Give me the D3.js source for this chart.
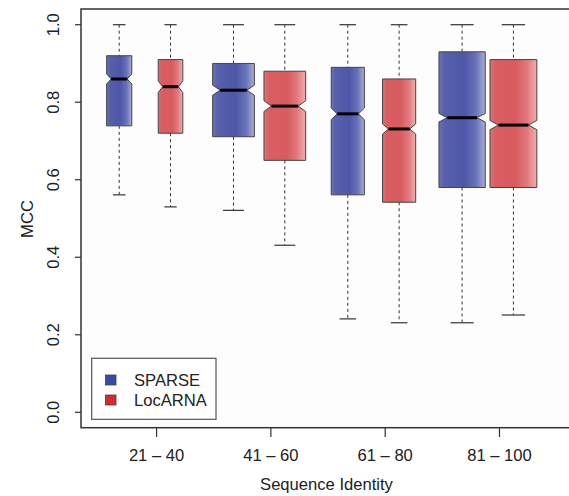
<!DOCTYPE html>
<html>
<head>
<meta charset="utf-8">
<script src="https://cdn.jsdelivr.net/npm/d3@7"></script>
<style>
body { margin: 0; background: #fff; }
text { font-family: "Liberation Sans", Arial, sans-serif; fill: #222; }
</style>
</head>
<body>
<script>
var w = 569, h = 496

// data
var groups = ["21 – 40", "41 – 60", "61 – 80", "81 – 100"]
var methods = ["SPARSE", "LocARNA"]
var yTicks = [0.0, 0.2, 0.4, 0.6, 0.8, 1.0]
// [whiskerLow, q1, median, q3, whiskerHigh] per group
var sparseStats = [
  [0.561, 0.739, 0.860, 0.920, 1.0],
  [0.521, 0.711, 0.831, 0.900, 1.0],
  [0.241, 0.561, 0.770, 0.890, 1.0],
  [0.231, 0.580, 0.760, 0.930, 1.0]
]
var locarnaStats = [
  [0.530, 0.720, 0.840, 0.910, 1.0],
  [0.431, 0.650, 0.790, 0.880, 1.0],
  [0.231, 0.542, 0.731, 0.860, 1.0],
  [0.251, 0.580, 0.741, 0.910, 1.0]
]
// notch half-heights and relative box widths (varwidth)
var sparseNotch = [0.013, 0.013, 0.015, 0.011]
var locarnaNotch = [0.015, 0.014, 0.013, 0.012]
var sparseWidth = [0.22, 0.365, 0.29, 0.405]
var locarnaWidth = [0.215, 0.365, 0.29, 0.41]

var legendColors = {SPARSE: "#3a48a6", LocARNA: "#d8292b"}
var fs = 16.6

var svg = d3.select("body").append("svg")
  .attr("width", w).attr("height", h)

var plot = {left: 81, top: 9, right: 572, bottom: 427.7}

var x = d3.scaleLinear().domain([0, 1]).range([119.2, 233.5])
var y = d3.scaleLinear().domain([0, 1]).range([412.3, 24.7])

var defs = svg.append("defs")
function grad(id, stops) {
  var g = defs.append("linearGradient").attr("id", id)
    .attr("x1", "0%").attr("x2", "100%").attr("y1", "0%").attr("y2", "0%")
  stops.forEach(function(s) {
    g.append("stop").attr("offset", s[0]).attr("stop-color", s[1])
  })
}
grad("g-SPARSE", [["0%", "#6c74b9"], ["12%", "#5760ab"], ["55%", "#4e57a8"], ["80%", "#6a72b9"], ["100%", "#a9addb"]])
grad("g-LocARNA", [["0%", "#df7375"], ["12%", "#d85e62"], ["55%", "#d85b5f"], ["80%", "#e27a7d"], ["100%", "#f0aeae"]])

// frame
svg.append("rect")
  .attr("x", plot.left).attr("y", plot.top)
  .attr("width", plot.right - plot.left).attr("height", plot.bottom - plot.top)
  .attr("fill", "#fdfdfd").attr("stroke", "#333").attr("stroke-width", 1.5)

var series = [
  {name: "SPARSE", stats: sparseStats, notch: sparseNotch, width: sparseWidth, off: 0},
  {name: "LocARNA", stats: locarnaStats, notch: locarnaNotch, width: locarnaWidth, off: 0.449}
]

var boxes = []
series.forEach(function(s) {
  s.stats.forEach(function(st, i) {
    boxes.push({name: s.name, st: st, notch: s.notch[i], width: s.width[i], pos: i + s.off})
  })
})

var unit = x(1) - x(0)
var bg = svg.append("g")
boxes.forEach(function(b) {
  var cx = x(b.pos), hw = b.width * unit / 2, d = b.width * unit * 0.18
  var lo = y(b.st[0]), q1 = y(b.st[1]), med = y(b.st[2]), q3 = y(b.st[3]), hi = y(b.st[4])
  var nHi = y(b.st[2] + b.notch), nLo = y(b.st[2] - b.notch)
  var g = bg.append("g")
  // whiskers
  g.append("line").attr("x1", cx).attr("x2", cx).attr("y1", hi).attr("y2", q3)
    .attr("stroke", "#333").attr("stroke-dasharray", "3,3")
  g.append("line").attr("x1", cx).attr("x2", cx).attr("y1", q1).attr("y2", lo)
    .attr("stroke", "#333").attr("stroke-dasharray", "3,3")
  g.append("line").attr("x1", cx - hw / 2).attr("x2", cx + hw / 2).attr("y1", hi).attr("y2", hi)
    .attr("stroke", "#333").attr("stroke-width", 1.2)
  g.append("line").attr("x1", cx - hw / 2).attr("x2", cx + hw / 2).attr("y1", lo).attr("y2", lo)
    .attr("stroke", "#333").attr("stroke-width", 1.2)
  // notched box
  var p = d3.path()
  p.moveTo(cx - hw, q3); p.lineTo(cx + hw, q3); p.lineTo(cx + hw, nHi)
  p.lineTo(cx + hw - d, med); p.lineTo(cx + hw, nLo); p.lineTo(cx + hw, q1)
  p.lineTo(cx - hw, q1); p.lineTo(cx - hw, nLo); p.lineTo(cx - hw + d, med)
  p.lineTo(cx - hw, nHi); p.closePath()
  g.append("path").attr("d", p.toString())
    .attr("fill", "url(#g-" + b.name + ")").attr("stroke", "#444").attr("stroke-width", 1)
  g.append("line").attr("x1", cx - hw + d).attr("x2", cx + hw - d).attr("y1", med).attr("y2", med)
    .attr("stroke", "#000").attr("stroke-width", 3)
})

// y axis
var ya = svg.append("g")
yTicks.forEach(function(t) {
  ya.append("line").attr("x1", 75).attr("x2", plot.left).attr("y1", y(t)).attr("y2", y(t))
    .attr("stroke", "#333").attr("stroke-width", 1.2)
  ya.append("text").attr("transform", "translate(58.5," + y(t) + ") rotate(-90)")
    .attr("text-anchor", "middle").attr("font-size", fs).text(d3.format(".1f")(t))
})
svg.append("text").attr("transform", "translate(33,219) rotate(-90)")
  .attr("text-anchor", "middle").attr("font-size", fs).text("MCC")

// x axis
var xa = svg.append("g")
groups.forEach(function(gname, i) {
  var tx = x(i + 0.327)
  xa.append("line").attr("x1", tx).attr("x2", tx).attr("y1", plot.bottom).attr("y2", 437)
    .attr("stroke", "#333").attr("stroke-width", 1.2)
  xa.append("text").attr("x", tx).attr("y", 460.5).attr("text-anchor", "middle")
    .attr("font-size", fs).text(gname)
})
svg.append("text").attr("x", 326.5).attr("y", 490).attr("text-anchor", "middle")
  .attr("font-size", fs).text("Sequence Identity")

// legend
var lg = svg.append("g")
lg.append("rect").attr("x", 91.7).attr("y", 358.3).attr("width", 124.3).attr("height", 61)
  .attr("fill", "#fff").attr("stroke", "#555").attr("stroke-width", 1.2)
methods.forEach(function(m, i) {
  var cy = 380 + i * 20
  lg.append("rect").attr("x", 105.5).attr("y", cy - 5).attr("width", 10.5).attr("height", 10)
    .attr("fill", legendColors[m]).attr("stroke", "#444").attr("stroke-width", 0.8)
  lg.append("text").attr("x", 134).attr("y", cy + 6).attr("font-size", fs).text(m)
})
</script>
</body>
</html>
